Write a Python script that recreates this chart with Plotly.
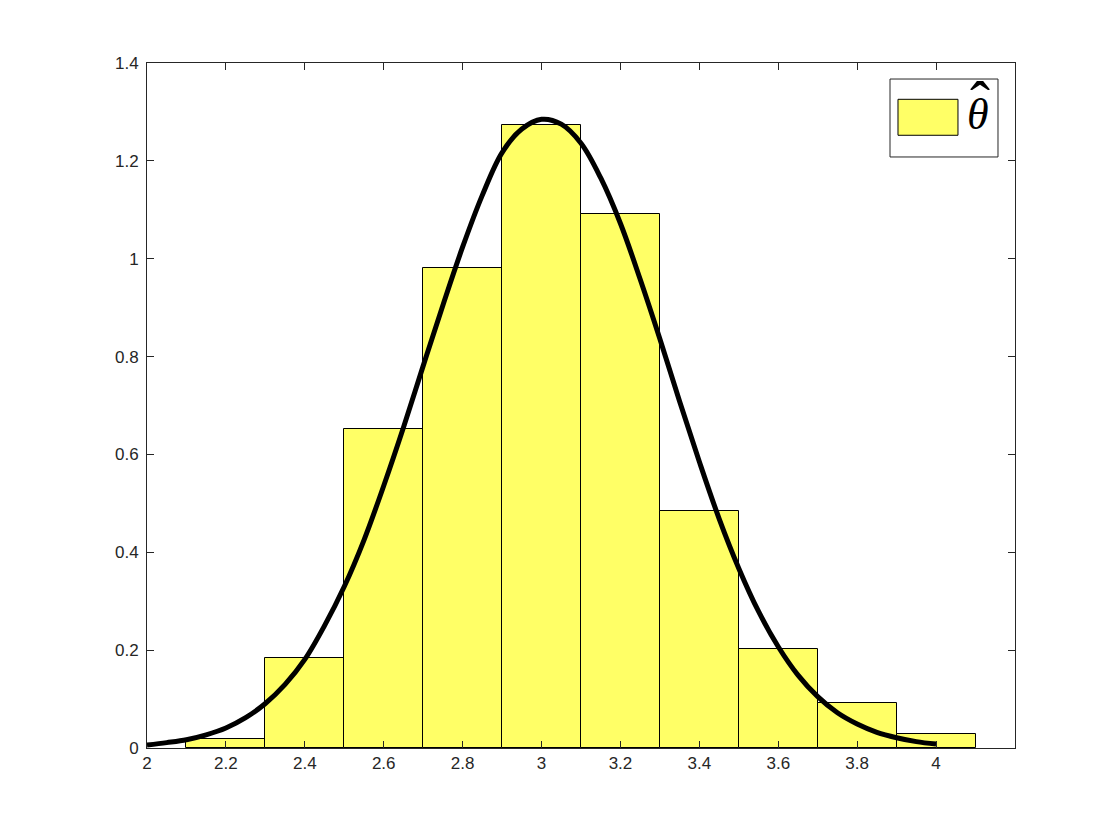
import plotly.graph_objects as go

# histogram bins (centres, width 0.2) and their density heights
bin_centers = [2.2, 2.4, 2.6, 2.8, 3.0, 3.2, 3.4, 3.6, 3.8, 4.0]
bin_heights = [0.018, 0.183, 0.652, 0.981, 1.274, 1.091, 0.485, 0.202, 0.091, 0.028]
bin_width = 0.2

# fitted density curve
curve_x = [2.0, 2.05, 2.1, 2.15, 2.2, 2.25, 2.3, 2.35, 2.4, 2.45, 2.5,
           2.55, 2.6, 2.65, 2.7, 2.75, 2.8, 2.85, 2.9, 2.95, 3.0,
           3.05, 3.1, 3.15, 3.2, 3.25, 3.3, 3.35, 3.4, 3.45, 3.5,
           3.55, 3.6, 3.65, 3.7, 3.75, 3.8, 3.85, 3.9, 3.95, 4.0]
curve_y = [0.006, 0.011, 0.017, 0.027, 0.041, 0.062, 0.091, 0.130, 0.181, 0.250, 0.330,
           0.425, 0.536, 0.655, 0.781, 0.905, 1.024, 1.130, 1.217, 1.265, 1.285,
           1.275, 1.236, 1.165, 1.072, 0.958, 0.836, 0.708, 0.585, 0.469, 0.367,
           0.279, 0.207, 0.149, 0.105, 0.072, 0.049, 0.032, 0.021, 0.013, 0.008]

x_ticks = [2, 2.2, 2.4, 2.6, 2.8, 3, 3.2, 3.4, 3.6, 3.8, 4]
x_tick_text = ["2", "2.2", "2.4", "2.6", "2.8", "3", "3.2", "3.4", "3.6", "3.8", "4"]
y_ticks = [0, 0.2, 0.4, 0.6, 0.8, 1, 1.2, 1.4]
y_tick_text = ["0", "0.2", "0.4", "0.6", "0.8", "1", "1.2", "1.4"]

axis_color = "#262626"

fig = go.Figure()

fig.add_trace(go.Bar(
    x=bin_centers,
    y=bin_heights,
    width=bin_width,
    marker_color="#FFFF66",
    marker_line_color="black",
    marker_line_width=1,
    showlegend=False,
))

fig.add_trace(go.Scatter(
    x=curve_x,
    y=curve_y,
    mode="lines",
    line=dict(color="black", width=5, shape="spline"),
    showlegend=False,
))

# hand-made legend box like matlab's
fig.add_shape(type="rect", xref="paper", yref="paper",
              x0=0.8560, x1=0.9804, y0=0.8628, y1=0.9766,
              line=dict(color=axis_color, width=1), fillcolor="white")
fig.add_shape(type="rect", xref="paper", yref="paper",
              x0=0.8652, x1=0.9343, y0=0.8945, y1=0.9470,
              line=dict(color="black", width=1), fillcolor="#FFFF66")
# theta with its hat on top
fig.add_annotation(xref="paper", yref="paper", x=0.9724, y=0.9635,
                   xanchor="right", yanchor="top",
                   text="<i>θ</i>", showarrow=False,
                   font=dict(family="Liberation Serif", size=44, color="black"))
fig.add_annotation(xref="paper", yref="paper", x=0.9598, y=0.9935,
                   xanchor="center", yanchor="top",
                   text="ˆ", showarrow=False,
                   font=dict(family="Liberation Serif", size=60, color="black"))

fig.update_xaxes(
    range=[2, 4.2],
    tickvals=x_ticks,
    ticktext=x_tick_text,
    ticks="inside",
    ticklen=7,
    tickcolor=axis_color,
    showline=True,
    linecolor=axis_color,
    linewidth=1,
    mirror="ticks",
    showgrid=False,
    zeroline=False,
    tickfont=dict(family="Liberation Sans", size=17, color=axis_color),
)
fig.update_yaxes(
    range=[0, 1.4],
    tickvals=y_ticks,
    ticktext=y_tick_text,
    ticks="inside",
    ticklen=7,
    tickcolor=axis_color,
    showline=True,
    linecolor=axis_color,
    linewidth=1,
    mirror="ticks",
    showgrid=False,
    zeroline=False,
    ticklabelstandoff=4,
    tickfont=dict(family="Liberation Sans", size=17, color=axis_color),
)
fig.update_layout(
    width=1120,
    height=840,
    margin=dict(l=139, r=113, t=55, b=100),
    plot_bgcolor="white",
    paper_bgcolor="white",
    bargap=0,
)

fig.write_html("out.html")
